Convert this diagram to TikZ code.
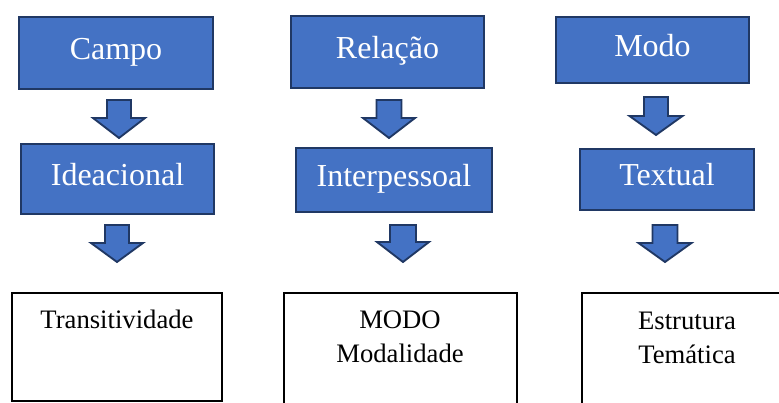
\documentclass[tikz,border=0pt]{standalone}
\usepackage{fontspec}
\setmainfont{Liberation Serif}
\definecolor{boxblue}{HTML}{4472C4}
\definecolor{navy}{HTML}{203864}
\tikzset{
  bluebox/.style={draw=navy, fill=boxblue, line width=1.9pt, text=white,
    font=\fontsize{24}{28}\selectfont, text height=16.3pt, text depth=6.7pt, inner sep=0pt},
  whitebox/.style={draw=black, line width=1.1pt, fill=white, inner sep=0pt},
  bodytext/.style={font=\fontsize{20}{24}\selectfont, anchor=base, inner sep=0pt},
  blockarrow/.style={draw=navy, fill=boxblue, line width=1.4pt, line join=miter},
}
% box from (x1,y1) to (x2,y2) in pixel units
\newcommand\mkbox[6]{\node[#1, minimum width={(#4-#2)*0.75pt}, minimum height={(#5-#3)*0.75pt}] (#6) at ({(#2+#4)/2},{(#3+#5)/2})}
% block arrow: cx, ytop, yhead, ytip, shaft half width, head half width
\newcommand\barrow[6]{\draw[blockarrow] ({#1-#5},#2) -- ({#1+#5},#2) -- ({#1+#5},#3) -- ({#1+#6},#3) -- (#1,#4) -- ({#1-#6},#3) -- ({#1-#5},#3) -- cycle;}
\begin{document}
\begin{tikzpicture}[x=0.75pt, y=-0.75pt]
\path[use as bounding box, clip] (0,0) rectangle (779,403);
\fill[white] (0,0) rectangle (779,403);
% column 1
\mkbox{bluebox}{19}{17}{213}{89}{campo} {Campo};
\barrow{119}{100}{118}{138}{12}{26}
\mkbox{bluebox}{21}{144}{214}{214}{idea} {Ideacional};
\barrow{117}{225}{243}{262}{12}{26}
\mkbox{whitebox}{12}{293}{222}{401}{trans} {};
\node[bodytext] (transt) at (117,328) {Transitividade};
% column 2
\mkbox{bluebox}{291}{16}{484}{88}{rel} {Relação};
\barrow{389}{100}{118}{138}{12.5}{26}
\mkbox{bluebox}{296}{148}{492}{212}{inter} {Interpessoal};
\barrow{403}{225}{242}{262}{13}{26}
\mkbox{whitebox}{284}{293}{517}{420}{modo2} {};
\node[bodytext] (modot) at (400,328) {MODO};
\node[bodytext] (modal) at (400,362) {Modalidade};
% column 3
\mkbox{bluebox}{556}{17}{749}{83}{modo} {Modo};
\barrow{656}{97}{116}{135}{12}{26.5}
\mkbox{bluebox}{580}{149}{754}{210}{text} {Textual};
\barrow{665}{225}{243}{262}{12.5}{26.5}
\mkbox{whitebox}{582}{293}{792}{420}{estr} {};
\node[bodytext] (estrt) at (687,329) {Estrutura};
\node[bodytext] (temt) at (687,363) {Temática};
\end{tikzpicture}
\end{document}
